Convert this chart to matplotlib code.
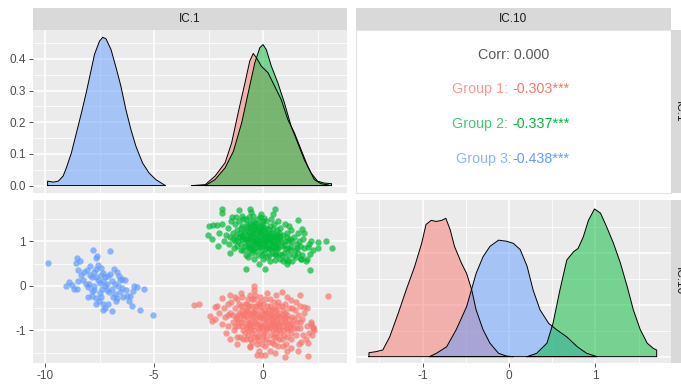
import matplotlib
matplotlib.use("Agg")
import matplotlib.pyplot as plt
import numpy as np
from matplotlib.ticker import FixedLocator

plt.rcParams['font.family'] = ['Liberation Sans', 'DejaVu Sans']

# group colours (ggplot default hue palette)
RED, GREEN, BLUE = "#F8766D", "#00BA38", "#619CFF"

# ---- IC.1 per-group density curves (x, density) ----
ic1_dens_blue = [(-9.88, 0.0), (-9.88, 0.014), (-9.62, 0.011), (-9.39, 0.014), (-9.17, 0.03), (-9.02, 0.056),
                 (-8.79, 0.103), (-8.56, 0.166), (-8.33, 0.229), (-8.11, 0.293), (-7.88, 0.366),
                 (-7.73, 0.414), (-7.5, 0.456), (-7.35, 0.468), (-7.2, 0.463), (-6.97, 0.429),
                 (-6.74, 0.372), (-6.52, 0.314), (-6.29, 0.24), (-6.06, 0.177), (-5.83, 0.124),
                 (-5.53, 0.072), (-5.23, 0.04), (-4.92, 0.019), (-4.62, 0.006), (-4.47, 0.0)]
ic1_dens_red = [(-3.26, 0.0), (-2.65, 0.003), (-2.2, 0.03), (-1.74, 0.072), (-1.44, 0.135), (-1.14, 0.23),
                (-0.83, 0.324), (-0.61, 0.393), (-0.45, 0.417), (-0.3, 0.403), (-0.08, 0.377),
                (0.23, 0.356), (0.53, 0.314), (0.83, 0.272), (1.14, 0.208), (1.44, 0.166),
                (1.74, 0.114), (2.05, 0.061), (2.35, 0.019), (2.65, 0.006), (3.0, 0.002), (3.0, 0.0)]
ic1_dens_green = [(-2.65, 0.0), (-2.2, 0.019), (-1.74, 0.056), (-1.36, 0.108), (-0.98, 0.198),
                  (-0.68, 0.293), (-0.38, 0.387), (-0.15, 0.435), (0.0, 0.445), (0.15, 0.429),
                  (0.38, 0.377), (0.68, 0.324), (0.98, 0.261), (1.29, 0.187), (1.59, 0.135),
                  (1.89, 0.082), (2.2, 0.04), (2.5, 0.014), (2.8, 0.008), (3.14, 0.006), (3.14, 0.0)]

# ---- IC.10 per-group density curves (x, density) ----
ic10_dens_red = [(-1.62, 0.0), (-1.62, 0.038), (-1.54, 0.048), (-1.46, 0.064), (-1.38, 0.19), (-1.28, 0.42),
                 (-1.19, 0.64), (-1.09, 0.87), (-1.01, 1.09), (-0.96, 1.27), (-0.9, 1.31),
                 (-0.84, 1.30), (-0.78, 1.31), (-0.73, 1.33), (-0.68, 1.22), (-0.63, 1.06),
                 (-0.55, 0.90), (-0.49, 0.80), (-0.43, 0.64), (-0.38, 0.45), (-0.30, 0.26),
                 (-0.22, 0.13), (-0.12, 0.032), (-0.03, 0.006), (0.05, 0.0)]
ic10_dens_blue = [(-0.92, 0.0), (-0.84, 0.032), (-0.72, 0.096), (-0.61, 0.26), (-0.49, 0.48), (-0.38, 0.80),
                  (-0.30, 0.96), (-0.22, 1.06), (-0.12, 1.12), (-0.03, 1.11), (0.05, 1.09),
                  (0.13, 1.03), (0.21, 0.87), (0.28, 0.64), (0.36, 0.45), (0.46, 0.32),
                  (0.55, 0.26), (0.67, 0.19), (0.79, 0.096), (0.90, 0.032), (1.02, 0.0)]
ic10_dens_green = [(0.21, 0.0), (0.32, 0.032), (0.44, 0.13), (0.51, 0.32), (0.59, 0.64), (0.67, 0.93),
                   (0.75, 1.01), (0.80, 1.04), (0.86, 1.15), (0.92, 1.31), (0.99, 1.42),
                   (1.06, 1.38), (1.13, 1.25), (1.21, 1.09), (1.29, 0.90), (1.37, 0.67),
                   (1.44, 0.45), (1.52, 0.26), (1.60, 0.13), (1.67, 0.08), (1.71, 0.064), (1.71, 0.0)]

# ---- scatter: IC.1 (x) vs IC.10 (y) per group ----
pts_blue = [(-9.88, 0.52), (-8.53, 0.63), (-8.59, 0.52), (-8.41, 0.56), (-8.48, 0.35), (-7.79, 0.80),
            (-7.62, 0.68), (-7.65, 0.63), (-7.02, 0.79), (-9.02, 0.01), (-8.89, 0.08), (-8.53, -0.07),
            (-8.47, 0.11), (-8.35, 0.24), (-8.23, 0.31), (-8.08, 0.35), (-7.95, 0.24), (-7.83, 0.19),
            (-7.98, 0.04), (-7.77, 0.31), (-7.65, 0.38), (-7.65, 0.20), (-7.56, 0.14), (-7.42, 0.25),
            (-7.32, 0.29), (-7.23, 0.19), (-7.11, 0.22), (-7.02, 0.26), (-6.82, 0.37), (-6.71, 0.32),
            (-6.59, 0.22), (-6.47, 0.16), (-6.35, 0.13), (-6.56, 0.14), (-7.77, -0.10), (-7.83, -0.22),
            (-7.65, -0.26), (-7.50, -0.16), (-7.38, -0.07), (-7.26, -0.01), (-7.17, -0.08), (-7.05, -0.14),
            (-6.92, -0.07), (-6.80, -0.19), (-6.68, -0.26), (-6.56, -0.13), (-6.41, -0.25), (-6.29, -0.10),
            (-6.11, -0.22), (-5.92, 0.01), (-5.77, -0.02), (-5.98, -0.11), (-5.47, -0.07), (-6.02, -0.46),
            (-5.65, -0.55), (-5.05, -0.66), (-7.35, -0.53), (-7.23, -0.49), (-6.92, -0.56), (-7.53, -0.34),
            (-7.11, -0.40), (-7.32, -0.40), (-6.74, -0.34), (-8.14, 0.04), (-8.26, 0.14), (-7.50, 0.07),
            (-7.32, 0.11), (-7.74, 0.01), (-6.80, 0.05), (-6.65, 0.01), (-6.47, -0.04), (-6.92, 0.11),
            (-7.17, 0.04), (-8.05, -0.02), (-7.86, -0.11), (-8.65, -0.07), (-8.77, 0.02), (-7.41, 0.41),
            (-7.56, 0.46), (-7.95, 0.44), (-6.26, -0.22), (-6.17, -0.34), (-8.05, -0.25), (-7.65, -0.40),
            (-7.41, -0.25), (-6.89, -0.25)]

pts_green = [(-1.86, 1.72), (-1.89, 1.64), (-2.47, 1.35), (-2.29, 1.36), (-2.12, 1.37), (-2.53, 1.14),
             (-2.35, 1.06), (-2.08, 0.89), (-1.44, 1.55), (-1.08, 1.70), (-0.59, 1.72), (0.53, 1.72),
             (1.59, 1.48), (1.77, 1.29), (1.86, 1.19), (2.20, 1.01), (2.53, 0.99), (2.88, 1.01),
             (3.14, 0.86), (2.50, 0.86), (2.17, 0.71), (2.14, 0.35), (-0.80, 0.37), (0.08, 0.37),
             (1.14, 0.56), (1.74, 0.61), (2.05, 0.88),
             (-1.6, 1.3), (-1.5, 1.1), (-1.4, 1.2), (-1.3, 1.0), (-1.3, 1.4), (-1.2, 0.9), (-1.2, 1.25),
             (-1.1, 1.1), (-1.1, 1.45), (-1.0, 0.95), (-1.0, 1.3), (-0.95, 1.15), (-0.9, 0.8), (-0.9, 1.5),
             (-0.85, 1.05), (-0.8, 1.25), (-0.8, 0.7), (-0.75, 1.4), (-0.7, 0.95), (-0.7, 1.15),
             (-0.65, 1.55), (-0.6, 0.85), (-0.6, 1.3), (-0.55, 1.05), (-0.5, 1.2), (-0.5, 0.75),
             (-0.45, 1.45), (-0.45, 0.95), (-0.4, 1.1), (-0.4, 1.35), (-0.35, 0.85), (-0.3, 1.25),
             (-0.3, 1.0), (-0.25, 1.5), (-0.25, 0.7), (-0.2, 1.15), (-0.2, 0.9), (-0.15, 1.35),
             (-0.1, 1.05), (-0.1, 0.8), (-0.05, 1.25), (0.0, 0.95), (0.0, 1.45), (0.05, 1.1), (0.05, 0.75),
             (0.1, 1.3), (0.1, 0.9), (0.15, 1.0), (0.2, 1.2), (0.2, 0.65), (0.25, 0.85), (0.3, 1.05),
             (0.3, 1.35), (0.35, 0.95), (0.4, 0.75), (0.4, 1.2), (0.45, 1.0), (0.5, 0.85), (0.5, 1.4),
             (0.55, 1.1), (0.6, 0.7), (0.6, 0.95), (0.65, 1.25), (0.7, 0.85), (0.75, 1.05), (0.8, 0.6),
             (0.8, 1.3), (0.85, 0.9), (0.9, 1.15), (0.95, 0.75), (1.0, 1.0), (1.05, 0.6), (1.1, 1.2),
             (1.15, 0.85), (1.2, 0.7), (1.25, 1.05), (1.3, 0.9), (1.35, 0.55), (1.4, 1.1), (1.45, 0.8),
             (1.5, 0.65), (1.55, 0.95), (1.6, 0.75), (1.7, 0.9), (1.8, 0.7), (1.9, 0.85), (2.0, 0.6),
             (1.65, 1.0), (1.75, 0.6), (1.2, 1.35),
             (-0.9, 1.1), (-0.75, 1.0), (-0.65, 1.2), (-0.55, 0.9), (-0.5, 1.35), (-0.42, 1.02),
             (-0.38, 0.78), (-0.32, 1.15), (-0.28, 0.95), (-0.22, 1.28), (-0.18, 1.02), (-0.12, 0.88),
             (-0.08, 1.18), (-0.02, 1.05), (0.02, 1.32), (0.08, 0.98), (0.12, 1.12), (0.18, 0.88),
             (0.22, 1.02), (0.28, 1.18), (0.32, 0.82), (0.38, 1.08), (0.42, 0.92), (0.48, 1.15),
             (0.52, 0.98), (0.58, 0.82), (0.62, 1.08), (0.68, 0.98), (0.72, 0.72), (0.78, 1.12),
             (-1.05, 1.2), (-0.95, 1.35), (-0.85, 0.9), (-0.72, 1.32), (-0.62, 1.05), (-0.48, 1.58),
             (-0.35, 1.42), (-0.15, 1.55), (0.15, 1.45), (0.35, 1.5), (-1.7, 1.15), (-1.8, 1.0),
             (-1.55, 0.95), (-1.45, 1.45), (-1.25, 1.55), (-1.0, 0.8), (-0.7, 0.65), (-0.4, 0.6),
             (0.0, 0.6), (0.3, 0.55), (0.9, 0.55), (1.1, 0.5), (1.3, 1.25), (1.0, 1.4), (0.7, 1.45),
             (0.45, 1.62), (-0.1, 1.62), (-0.55, 1.65), (-0.95, 1.58), (-1.35, 0.85), (1.6, 1.2),
             (1.85, 1.05), (2.1, 0.95), (2.3, 0.8), (1.95, 0.55), (0.55, 0.58), (-0.2, 0.5),
             (-1.5, 0.75), (-2.0, 1.2), (-1.9, 1.4),
             (-0.8, 1.05), (-0.68, 0.88), (-0.58, 1.12), (-0.52, 1.25), (-0.44, 1.18), (-0.36, 0.98),
             (-0.26, 1.08), (-0.16, 0.95), (-0.06, 1.38), (0.04, 1.2), (0.14, 0.82), (0.24, 1.28),
             (0.34, 1.12), (0.44, 1.28), (0.54, 0.72), (0.64, 0.88), (0.74, 1.2), (0.84, 1.02),
             (0.94, 0.92), (1.04, 0.82), (1.14, 1.02), (1.24, 0.8), (1.34, 1.0), (1.44, 0.7),
             (1.54, 0.85), (-1.15, 1.0), (-1.25, 1.12), (-1.4, 1.05), (-0.98, 1.05), (-0.88, 1.22),
             (-0.78, 1.5), (-0.6, 1.42), (-0.3, 1.38), (0.06, 1.52), (0.26, 0.7), (-0.04, 0.7),
             (-0.46, 0.82), (0.86, 0.7), (1.08, 1.1), (0.66, 1.15), (-0.12, 1.22), (0.18, 1.08),
             (-0.36, 1.28), (-0.66, 0.78), (0.46, 0.88)]

pts_red = [(-3.18, -0.43), (-2.95, -0.40), (-0.42, 0.01), (3.00, -0.22), (-2.41, -0.68), (-2.35, -0.79),
           (-2.20, -0.47), (-1.89, -0.28), (-1.21, -1.31), (-0.26, -1.54), (-0.08, -1.55), (0.11, -1.54),
           (0.56, -1.51), (1.02, -1.60), (2.05, -1.57), (2.05, -1.28), (2.27, -0.92), (2.20, -0.85),
           (2.33, -1.00), (1.29, -0.32), (0.86, -0.14), (1.68, -0.21), (1.89, -0.47), (-0.59, -1.37),
           (-2.0, -0.6), (-1.9, -0.85), (-1.8, -0.5), (-1.75, -0.7), (-1.6, -0.4), (-1.6, -0.9),
           (-1.5, -0.6), (-1.45, -0.35), (-1.4, -0.8), (-1.35, -1.0), (-1.3, -0.5), (-1.25, -0.7),
           (-1.2, -0.3), (-1.15, -0.9), (-1.1, -0.6), (-1.05, -1.15), (-1.0, -0.45), (-1.0, -0.8),
           (-0.95, -0.25), (-0.9, -1.0), (-0.9, -0.65), (-0.85, -0.4), (-0.8, -0.85), (-0.8, -1.2),
           (-0.75, -0.55), (-0.7, -0.75), (-0.7, -0.3), (-0.65, -1.0), (-0.6, -0.6), (-0.6, -0.2),
           (-0.55, -0.85), (-0.5, -1.25), (-0.5, -0.45), (-0.45, -0.7), (-0.4, -1.0), (-0.4, -0.3),
           (-0.35, -0.55), (-0.3, -0.85), (-0.3, -1.15), (-0.25, -0.4), (-0.2, -0.7), (-0.2, -1.0),
           (-0.15, -0.25), (-0.1, -0.55), (-0.1, -0.9), (-0.05, -1.3), (0.0, -0.75), (0.0, -0.4),
           (0.05, -1.05), (0.1, -0.6), (0.1, -0.85), (0.15, -1.2), (0.2, -0.45), (0.2, -0.95),
           (0.25, -0.7), (0.3, -1.1), (0.3, -0.3), (0.35, -0.85), (0.4, -0.55), (0.4, -1.25),
           (0.45, -1.0), (0.5, -0.7), (0.5, -0.35), (0.55, -0.9), (0.6, -1.15), (0.6, -0.55),
           (0.65, -0.8), (0.7, -1.35), (0.7, -0.45), (0.75, -1.0), (0.8, -0.7), (0.85, -1.2),
           (0.9, -0.55), (0.9, -0.9), (0.95, -1.1), (1.0, -0.4), (1.0, -0.8), (1.05, -1.3),
           (1.1, -0.65), (1.15, -1.0), (1.2, -0.5), (1.25, -0.85), (1.3, -1.2), (1.35, -0.7),
           (1.4, -0.95), (1.45, -0.55), (1.5, -1.1), (1.55, -0.8), (1.6, -0.65), (1.65, -1.3),
           (1.7, -0.95), (1.8, -0.75), (1.85, -1.1), (1.9, -0.6), (2.0, -0.9), (2.1, -1.05),
           (2.2, -0.8), (1.75, -1.25), (1.95, -1.2), (2.25, -1.1),
           (-0.95, -0.9), (-0.85, -0.6), (-0.75, -0.95), (-0.65, -0.45), (-0.55, -0.65), (-0.45, -0.9),
           (-0.35, -0.75), (-0.25, -1.1), (-0.15, -0.65), (-0.05, -0.95), (0.05, -0.55), (0.15, -0.75),
           (0.25, -0.9), (0.35, -0.65), (0.45, -0.8), (0.55, -1.05), (0.65, -0.65), (0.75, -0.85),
           (0.85, -0.65), (0.95, -0.75), (-0.6, -0.8), (-0.4, -0.6), (-0.2, -0.85), (0.0, -1.1),
           (0.2, -0.6), (0.4, -0.75), (0.6, -0.95), (0.8, -1.05), (1.0, -0.6), (1.2, -0.75),
           (-1.2, -0.75), (-1.4, -0.65), (-1.1, -0.4), (-0.9, -1.2), (-0.7, -1.1), (-0.3, -1.3),
           (0.1, -1.35), (0.5, -1.3), (0.9, -1.35), (1.3, -1.4), (-2.2, -0.75), (-2.1, -0.45),
           (-1.7, -1.05), (-1.5, -0.2), (-1.0, -0.15), (-0.4, -0.1), (0.2, -0.15), (0.6, -0.2),
           (1.1, -0.25), (1.5, -0.35), (1.7, -0.45), (2.0, -0.5), (2.3, -0.95), (1.6, -1.45),
           (1.1, -1.45), (0.3, -1.45), (-0.2, -1.45), (-0.6, -1.35), (-1.2, -1.15), (-1.5, -1.2),
           (-0.8, -0.55), (-0.5, -1.05), (0.05, -0.65), (0.3, -0.45), (0.7, -0.6), (1.05, -0.95),
           (1.35, -0.5), (-0.15, -0.45), (-1.3, -0.25), (-0.35, -0.2),
           (-0.9, -0.75), (-0.78, -0.68), (-0.68, -0.88), (-0.58, -0.95), (-0.48, -0.58), (-0.38, -0.82),
           (-0.28, -0.62), (-0.18, -0.95), (-0.08, -0.72), (0.02, -0.88), (0.12, -1.0), (0.22, -0.78),
           (0.32, -0.95), (0.42, -0.62), (0.52, -0.85), (0.62, -0.72), (0.72, -0.92), (0.82, -0.8),
           (0.92, -1.0), (1.02, -0.7), (1.12, -0.85), (1.22, -0.95), (1.32, -0.85), (1.42, -0.75),
           (-1.05, -0.65), (-1.15, -0.8), (-1.3, -0.9), (-0.95, -0.55), (-0.72, -0.4), (-0.52, -0.3),
           (-0.32, -0.45), (-0.12, -0.35), (0.08, -0.3), (0.28, -0.55), (0.48, -0.5), (0.68, -0.35),
           (0.88, -0.45), (-0.42, -1.15), (-0.22, -1.22), (0.02, -1.2), (0.26, -1.25), (0.48, -1.15),
           (0.72, -1.18), (1.08, -1.15), (1.28, -1.05), (-0.62, -1.2), (-0.85, -1.05), (1.55, -0.95),
           (1.68, -0.8), (-1.6, -0.65)]

# correlation summary text
corr_total = "Corr: 0.000"
group_labels = ["Group 1: ", "Group 2: ", "Group 3:"]
group_corrs = ["-0.303***", "-0.337***", "-0.438***"]
group_colors = [RED, GREEN, BLUE]

strip_top = ["IC.1", "IC.10"]
strip_right = ["IC.1", "IC.10"]

PANEL_BG = "#EBEBEB"
STRIP_BG = "#D9D9D9"
TICK_COL = "#4D4D4D"
FS = 8.5

W, H = 681, 384
fig = plt.figure(figsize=(W / 100, H / 100), dpi=100)
fig.patch.set_facecolor("white")


def px_axes(x0, y0, x1, y1, **kw):
    return fig.add_axes([x0 / W, 1 - y1 / H, (x1 - x0) / W, (y1 - y0) / H], **kw)


def style_panel(ax, xmaj, xmin, ymaj, ymin):
    ax.set_facecolor(PANEL_BG)
    for s in ax.spines.values():
        s.set_visible(False)
    ax.xaxis.set_major_locator(FixedLocator(xmaj))
    ax.xaxis.set_minor_locator(FixedLocator(xmin))
    ax.yaxis.set_major_locator(FixedLocator(ymaj))
    ax.yaxis.set_minor_locator(FixedLocator(ymin))
    ax.grid(which="major", color="white", lw=1.1)
    ax.grid(which="minor", color="white", lw=0.55)
    ax.set_axisbelow(True)
    ax.tick_params(which="major", length=3, width=0.6, color="#333333", labelcolor=TICK_COL,
                   labelsize=FS, pad=2)
    ax.tick_params(which="minor", length=0)


def draw_density(ax, pts, color):
    arr = np.array(pts)
    ax.fill(arr[:, 0], arr[:, 1], facecolor=color, alpha=0.5, edgecolor="none", zorder=2)
    ax.plot(np.append(arr[:, 0], arr[0, 0]), np.append(arr[:, 1], arr[0, 1]),
            color="black", lw=0.7, zorder=3)


X1_LIM = (-10.55, 3.85)
X10_LIM = (-1.77, 1.87)

# top-left: IC.1 densities
ax_tl = px_axes(33, 30, 347, 193)
style_panel(ax_tl, [-10, -5, 0], [-7.5, -2.5, 2.5], [0, 0.1, 0.2, 0.3, 0.4],
            [0.05, 0.15, 0.25, 0.35, 0.45])
for pts, c in [(ic1_dens_blue, BLUE), (ic1_dens_red, RED), (ic1_dens_green, GREEN)]:
    draw_density(ax_tl, pts, c)
ax_tl.set_xlim(*X1_LIM)
ax_tl.set_ylim(-0.0234, 0.491)
ax_tl.set_yticklabels(["0.0", "0.1", "0.2", "0.3", "0.4"])
ax_tl.tick_params(axis="x", which="major", length=0, labelbottom=False)

# top-right: correlation text
ax_tr = px_axes(356, 30, 670.5, 193)
ax_tr.set_facecolor("white")
for s in ax_tr.spines.values():
    s.set_color("#E4E4E4")
    s.set_linewidth(0.8)
ax_tr.set_xticks([])
ax_tr.set_yticks([])
ax_tr.set_xlim(0, 1)
ax_tr.set_ylim(0, 1)
ax_tr.text(0.5, 0.845, corr_total, ha="center", va="center", color="#595959", fontsize=10.3)
for i, (lab, val, col) in enumerate(zip(group_labels, group_corrs, group_colors)):
    yy = 0.635 - i * 0.213
    ax_tr.text(0.497, yy, lab, ha="right", va="center", color=col, alpha=0.75, fontsize=10.3)
    ax_tr.text(0.497, yy, val, ha="left", va="center", color=col, fontsize=10.3)

# bottom-left: scatter IC.1 vs IC.10
ax_bl = px_axes(33, 200, 347, 363)
style_panel(ax_bl, [-10, -5, 0], [-7.5, -2.5, 2.5], [-1, 0, 1], [-1.5, -0.5, 0.5, 1.5])
for pts, c in [(pts_red, RED), (pts_green, GREEN), (pts_blue, BLUE)]:
    arr = np.array(pts)
    ax_bl.scatter(arr[:, 0], arr[:, 1], s=21, color=c, alpha=0.7, linewidths=0, zorder=2)
ax_bl.set_xlim(*X1_LIM)
ax_bl.set_ylim(-1.73, 1.93)
ax_bl.set_xticklabels(["-10", "-5", "0"])
ax_bl.set_yticklabels(["-1", "0", "1"])

# bottom-right: IC.10 densities
ax_br = px_axes(356, 200, 670.5, 363)
style_panel(ax_br, [-1, 0, 1], [-1.5, -0.5, 0.5, 1.5], [0, 0.5, 1.0], [0.25, 0.75, 1.25])
for pts, c in [(ic10_dens_red, RED), (ic10_dens_blue, BLUE), (ic10_dens_green, GREEN)]:
    draw_density(ax_br, pts, c)
ax_br.set_xlim(*X10_LIM)
ax_br.set_ylim(-0.061, 1.506)
ax_br.set_xticklabels(["-1", "0", "1"])
ax_br.tick_params(axis="y", which="major", length=0, labelleft=False)

# facet strips
for (x0, x1), lab in zip([(33, 347), (356, 670.5)], strip_top):
    sa = px_axes(x0, 8, x1, 30)
    sa.set_facecolor(STRIP_BG)
    sa.set_xticks([]); sa.set_yticks([])
    for s in sa.spines.values():
        s.set_visible(False)
    sa.text(0.5, 0.5, lab, ha="center", va="center", fontsize=FS, color="#1A1A1A")

for (y0, y1), lab in zip([(30, 193), (200, 363)], strip_right):
    sa = px_axes(671, y0, 687, y1)
    sa.set_facecolor(STRIP_BG)
    sa.set_xticks([]); sa.set_yticks([])
    for s in sa.spines.values():
        s.set_visible(False)
    sa.text(0.5, 0.5, lab, ha="center", va="center", fontsize=FS, color="#1A1A1A",
            rotation=-90)

fig.savefig("out.png", dpi=100)
